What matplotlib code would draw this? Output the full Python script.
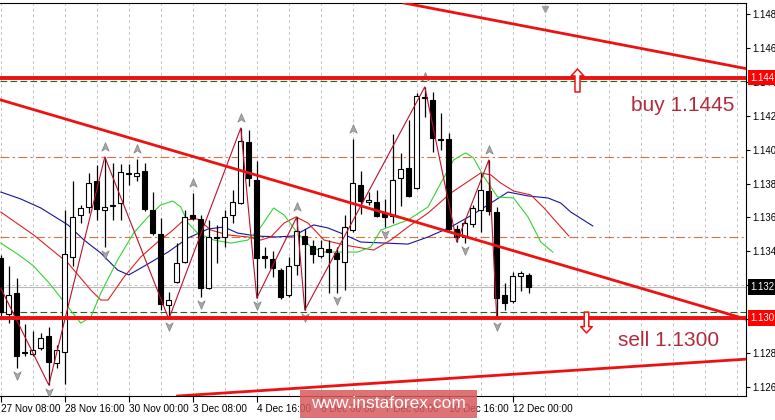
import matplotlib
matplotlib.use('Agg')
import matplotlib.pyplot as plt
import numpy as np
from matplotlib.path import Path
from matplotlib.patches import Rectangle

plt.rcParams['font.family'] = ['Liberation Sans', 'DejaVu Sans']

# EURUSD H4 candles, bar 0 = 27 Nov 08:00
opens = [1.13361, 1.13030, 1.13154, 1.12800, 1.12794, 1.12830, 1.12901, 1.12741, 1.12806, 1.13367,
         1.13615, 1.13662, 1.13815, 1.13644, 1.13665, 1.13685, 1.13854, 1.13845, 1.13874, 1.13644,
         1.13502, 1.13083, 1.13219, 1.13337, 1.13615, 1.13591, 1.13184, 1.13476, 1.13485, 1.13615,
         1.13685, 1.14046, 1.13821, 1.13373, 1.13355, 1.13290, 1.13143, 1.13320, 1.13491, 1.13432,
         1.13373, 1.13414, 1.13390, 1.13337, 1.13526, 1.13792, 1.13691, 1.13691, 1.13626, 1.13609,
         1.13833, 1.13892, 1.13774, 1.14302, 1.14293, 1.14063, 1.14063, 1.13532, 1.13485, 1.13561,
         1.13644, 1.13756, 1.13632, 1.13143, 1.13107, 1.13255, 1.13261]
highs = [1.13379, 1.13314, 1.13243, 1.12971, 1.12930, 1.12918, 1.12954, 1.12848, 1.13644, 1.13815,
         1.13674, 1.13863, 1.13910, 1.13957, 1.13922, 1.13916, 1.13916, 1.13945, 1.13922, 1.13750,
         1.13597, 1.13160, 1.13449, 1.13644, 1.13744, 1.13615, 1.13585, 1.13556, 1.13644, 1.13762,
         1.14128, 1.14116, 1.13933, 1.13426, 1.13402, 1.13302, 1.13367, 1.13603, 1.13532, 1.13467,
         1.13467, 1.13467, 1.13426, 1.13615, 1.14063, 1.13874, 1.13750, 1.13762, 1.13709, 1.14093,
         1.13981, 1.14175, 1.14334, 1.14370, 1.14340, 1.14217, 1.14099, 1.13556, 1.13591, 1.13674,
         1.13863, 1.13939, 1.13662, 1.13213, 1.13278, 1.13284, 1.13272]
lows = [1.13019, 1.12977, 1.12712, 1.12783, 1.12783, 1.12818, 1.12612, 1.12712, 1.12618, 1.13314,
        1.13567, 1.13626, 1.13585, 1.13426, 1.13585, 1.13585, 1.13792, 1.13815, 1.13638, 1.13497,
        1.13054, 1.13001, 1.13213, 1.13331, 1.13585, 1.13131, 1.13178, 1.13331, 1.13426, 1.13567,
        1.13679, 1.13786, 1.13125, 1.13302, 1.13249, 1.13119, 1.13131, 1.13261, 1.13054, 1.13331,
        1.13361, 1.13154, 1.13154, 1.13172, 1.13514, 1.13620, 1.13674, 1.13603, 1.13544, 1.13567,
        1.13668, 1.13721, 1.13768, 1.14193, 1.13987, 1.13998, 1.13520, 1.13455, 1.13449, 1.13544,
        1.13514, 1.13615, 1.13001, 1.13054, 1.13095, 1.13166, 1.13154]
closes = [1.13042, 1.13143, 1.12783, 1.12806, 1.12818, 1.12889, 1.12747, 1.12818, 1.13384, 1.13603,
          1.13656, 1.13803, 1.13650, 1.13662, 1.13671, 1.13869, 1.13860, 1.13863, 1.13650, 1.13508,
          1.13089, 1.13113, 1.13331, 1.13603, 1.13597, 1.13184, 1.13485, 1.13482, 1.13603, 1.13691,
          1.14051, 1.13833, 1.13361, 1.13361, 1.13302, 1.13131, 1.13314, 1.13520, 1.13443, 1.13384,
          1.13420, 1.13396, 1.13355, 1.13544, 1.13803, 1.13697, 1.13703, 1.13609, 1.13603, 1.13821,
          1.13886, 1.13727, 1.14317, 1.14308, 1.14069, 1.14057, 1.13532, 1.13485, 1.13567, 1.13656,
          1.13762, 1.13638, 1.13125, 1.13095, 1.13255, 1.13272, 1.13190]

# Alligator lines, x in bars
jaw_x = [0, 2.5, 5, 8.4, 10.4, 12.5, 14.6, 16, 18.4, 20.9, 23.4, 25.9, 27.9, 29.6, 31.9, 34.4, 36.6,
         39.1, 40.9, 42.5, 45, 48.1, 50.9, 53.4, 56.25, 59.1, 61.25, 63.4, 65.9, 68.4, 70, 71.25, 74]
jaw_y = [1.13750, 1.13709, 1.13656, 1.13556, 1.13467, 1.13390, 1.13290, 1.13261, 1.13326, 1.13396,
         1.13479, 1.13532, 1.13544, 1.13508, 1.13491, 1.13485, 1.13491, 1.13556, 1.13538, 1.13508,
         1.13455, 1.13449, 1.13443, 1.13485, 1.13544, 1.13620, 1.13685, 1.13750, 1.13727, 1.13715,
         1.13685, 1.13632, 1.13550]
teeth_x = [0, 4.1, 8.4, 11.25, 12.5, 13.4, 15.4, 17.5, 19.6, 21.25, 22.9, 24.6, 26.25, 28.4, 30.9,
           32.5, 33.75, 35.4, 36.9, 38.4, 40.4, 42.9, 46.6, 48.75, 50.9, 53.4, 56.25, 60, 61.25, 62.5,
           64.1, 66.25, 67.9, 70, 71]
teeth_y = [1.13632, 1.13497, 1.13331, 1.13172, 1.13113, 1.13113, 1.13249, 1.13367, 1.13455, 1.13515,
           1.13585, 1.13591, 1.13526, 1.13497, 1.13485, 1.13467, 1.13485, 1.13567, 1.13603, 1.13567,
           1.13467, 1.13438, 1.13408, 1.13467, 1.13544, 1.13626, 1.13744, 1.13863, 1.13851, 1.13803,
           1.13756, 1.13733, 1.13656, 1.13544, 1.13491]
lips_x = [0, 2.1, 4.1, 6.25, 8.4, 10, 11.25, 12.5, 14.6, 16.6, 18.4, 20, 21.5, 22.5, 23.4, 24.6, 26.6,
          28.75, 30.9, 32.5, 34.1, 35.4, 37.1, 38.75, 40.4, 42.5, 44.6, 46.25, 47.5, 50.9, 53.4, 55,
          56.6, 58.1, 59.1, 60.4, 62.1, 64.1, 65.9, 67.5, 69]
lips_y = [1.13449, 1.13384, 1.13314, 1.13202, 1.13072, 1.12977, 1.13013, 1.13154, 1.13349, 1.13508,
          1.13603, 1.13674, 1.13697, 1.13662, 1.13567, 1.13508, 1.13467, 1.13449, 1.13467, 1.13544,
          1.13656, 1.13615, 1.13508, 1.13426, 1.13396, 1.13396, 1.13396, 1.13426, 1.13526, 1.13585,
          1.13662, 1.13803, 1.13939, 1.13981, 1.13951, 1.13839, 1.13721, 1.13715, 1.13603, 1.13455,
          1.13396]

# zigzag pivots
zz_bars = [0, 6, 13, 21, 30, 32, 37, 38, 53, 57, 61, 62]
zz_prices = [1.13183, 1.12612, 1.13957, 1.13001, 1.14128, 1.13125, 1.13603, 1.13054, 1.14370,
             1.13455, 1.13939, 1.13001]

# fractals
frac_up = [13, 17, 24, 30, 37, 44, 53, 61]
frac_down = [2, 6, 13, 21, 25, 32, 38, 42, 48, 58, 62]

# trend lines
tl_upper_x, tl_upper_y = [50.4, 93.4], [1.14865, 1.14476]
tl_mid_x, tl_mid_y = [0, 93.1], [1.14293, 1.13001]
tl_low_x, tl_low_y = [22.1, 93.4], [1.12547, 1.12765]

buy_line, buy_stop = 1.14425, 1.14405
sell_line, sell_stop = 1.13005, 1.13042
orange_levels = [1.13957, 1.13485]

tick_bars = [0, 8, 16, 24, 32, 40, 48, 56, 64]
tick_labels = ['27 Nov 08:00', '28 Nov 16:00', '30 Nov 00:00', '3 Dec 08:00', '4 Dec 16:00',
               '6 Dec 00:00', '7 Dec 08:00', '10 Dec 16:00', '12 Dec 00:00']
price_ticks = [1.126, 1.128, 1.134, 1.136, 1.138, 1.140, 1.142, 1.144, 1.146, 1.148]
grid_prices = [1.126, 1.128, 1.130, 1.132, 1.134, 1.136, 1.138, 1.140, 1.142, 1.144, 1.146, 1.148]

fig = plt.figure(figsize=(7.75, 4.2), dpi=100)
ax = fig.add_axes([0, 24 / 420, 746 / 775, 393 / 420])
ax.set_xlim(-0.1, 93.15)
ax.set_ylim(1.12547, 1.14865)

o = np.array(opens); h = np.array(highs); l = np.array(lows); c = np.array(closes)
idx = np.arange(len(o))
bull = c >= o

# grid
ax.set_xticks(np.arange(4, 93, 4), minor=True)
ax.set_xticks(tick_bars)
ax.set_xticklabels(tick_labels, ha='left')
ax.set_yticks(price_ticks)
ax.set_yticks(grid_prices, minor=True)
ax.yaxis.set_major_formatter(matplotlib.ticker.FormatStrFormatter('%.3f'))
ax.yaxis.tick_right()
ax.grid(True, which='both', axis='x', color='#c4c4c4', linestyle=(0, (3, 3)), linewidth=0.7)
ax.grid(True, which='minor', axis='y', color='#c4c4c4', linestyle=(0, (3, 3)), linewidth=0.7)
ax.set_axisbelow(True)
ax.tick_params(axis='x', which='major', direction='out', length=4, width=0.8, pad=1.5, labelsize=7.2)
ax.tick_params(axis='x', which='minor', length=0)
ax.tick_params(axis='y', which='minor', direction='out', length=3, width=0.8)
ax.tick_params(axis='y', which='major', direction='out', length=3, width=0.8, pad=1.5, labelsize=6.9)
ax.spines['left'].set_visible(False)
for s in ['top', 'bottom', 'right']:
    ax.spines[s].set_linewidth(0.8)

# level lines
for lv in orange_levels:
    ax.axhline(lv, color='#e0703a', lw=0.8, linestyle=(0, (8, 3, 2, 3)), zorder=1)
ax.axhline(buy_stop, color='#1d6b1d', lw=0.8, linestyle=(0, (6, 3)), zorder=1)
ax.axhline(sell_stop, color='#1d6b1d', lw=0.8, linestyle=(0, (6, 3)), zorder=1)
ax.axhline(closes[-1], color='#b8b8b8', lw=0.8, zorder=1)

# alligator
ax.plot(jaw_x, jaw_y, color='#1414a0', lw=0.8, zorder=2)
ax.plot(teeth_x, teeth_y, color='#e02020', lw=0.8, zorder=2)
ax.plot(lips_x, lips_y, color='#33d433', lw=0.8, zorder=2)

# candles
ax.vlines(idx, l, h, colors='black', lw=0.9, zorder=3)
ax.bar(idx[bull], np.maximum((c - o)[bull], 0.00002), bottom=o[bull], width=0.62,
       facecolor='white', edgecolor='black', lw=0.8, zorder=4)
ax.bar(idx[~bull], np.maximum((o - c)[~bull], 0.00002), bottom=c[~bull], width=0.62,
       facecolor='black', edgecolor='black', lw=0.8, zorder=4)

# zigzag
ax.plot(zz_bars, zz_prices, color='#b8102c', lw=0.8, zorder=5)

# fractal arrows
up_path = Path([(0, 1), (0.75, -0.75), (0, -0.25), (-0.75, -0.75), (0, 1)],
               [Path.MOVETO, Path.LINETO, Path.LINETO, Path.LINETO, Path.CLOSEPOLY])
dn_path = Path([(0, -1), (0.75, 0.75), (0, 0.25), (-0.75, 0.75), (0, -1)],
               [Path.MOVETO, Path.LINETO, Path.LINETO, Path.LINETO, Path.CLOSEPOLY])
ax.plot(frac_up, h[frac_up] + 0.0006, linestyle='none', marker=up_path, ms=7,
        mfc='#a8a8a8', mec='#808080', mew=0.5, zorder=6)
ax.plot(frac_down, l[frac_down] - 0.0004, linestyle='none', marker=dn_path, ms=7,
        mfc='#a8a8a8', mec='#808080', mew=0.5, zorder=6)

# trend lines and levels
ax.plot(tl_upper_x, tl_upper_y, color='#ee1111', lw=2.0, zorder=7)
ax.plot(tl_mid_x, tl_mid_y, color='#ee1111', lw=2.0, zorder=7)
ax.plot(tl_low_x, tl_low_y, color='#ee1111', lw=2.0, zorder=7)
ax.axhline(buy_line, color='#ee1111', lw=2.8, zorder=7)
ax.axhline(sell_line, color='#ee1111', lw=2.8, zorder=7)

# block arrows
bu = Path([(0, 1), (0.55, 0.4), (0.22, 0.4), (0.22, -1), (-0.22, -1), (-0.22, 0.4), (-0.55, 0.4), (0, 1)],
          [Path.MOVETO] + [Path.LINETO] * 6 + [Path.CLOSEPOLY])
bd = Path([(0, -1), (0.55, -0.4), (0.22, -0.4), (0.22, 1), (-0.22, 1), (-0.22, -0.4), (-0.55, -0.4), (0, -1)],
          [Path.MOVETO] + [Path.LINETO] * 6 + [Path.CLOSEPOLY])
ax.plot([72], [1.14411], marker=bu, ms=16.5, mfc='white', mec='#ee1111', mew=1.1, zorder=8)
ax.plot([73.1], [1.12983], marker=bd, ms=15, mfc='white', mec='#ee1111', mew=1.1, zorder=8)

ax.text(78.75, 1.14258, 'buy 1.1445', color='#b02c3c', fontsize=15, ha='left', va='center', zorder=8)
ax.text(77.1, 1.12877, 'sell 1.1300', color='#b02c3c', fontsize=15, ha='left', va='center', zorder=8)

# chart shift marker
ax.plot([68], [0.985], transform=ax.get_xaxis_transform(), marker='v', ms=5,
        color='#a0a0a0', clip_on=False, zorder=9)

# price labels on the right axis
yt = ax.get_yaxis_transform()
for lv, fc in [(buy_line, '#ff0000'), (sell_line, '#ff0000'), (closes[-1], '#000000')]:
    ax.text(1.006, lv, '%.3f' % lv, transform=yt, ha='left', va='center', color='white',
            fontsize=6.9, clip_on=False, zorder=10,
            bbox=dict(boxstyle='square,pad=0.3', fc=fc, ec='none'))

# watermark
fig.add_artist(Rectangle((300 / 775, 2 / 420), 177 / 775, 28 / 420, transform=fig.transFigure,
                         fc='#d95a5e', ec='none', alpha=0.85, zorder=20))
fig.text(388 / 775, 16 / 420, 'www.instaforex.com', ha='center', va='center', color='white',
         fontsize=12.5, zorder=21)

fig.savefig('out.png', dpi=100, facecolor='white')
